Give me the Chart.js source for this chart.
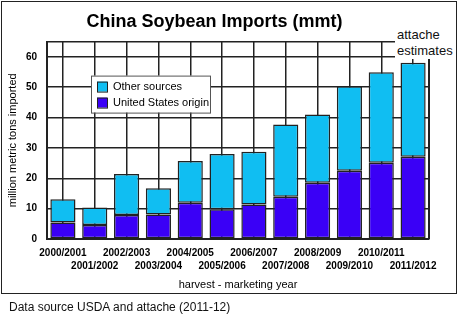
<!DOCTYPE html>
<html>
<head>
<meta charset="utf-8">
<script src="https://cdn.jsdelivr.net/npm/chart.js@4.4.1/dist/chart.umd.min.js"></script>
<style>
  body { margin: 0; background: #fff; font-family: Arial, "Liberation Sans", sans-serif; }
  #wrap { position: relative; width: 463px; height: 327px; }
  #frame { position: absolute; left: 1px; top: 1px; width: 456px; height: 293px; border: 1.5px solid #222; box-sizing: border-box; pointer-events: none; }
  #note { position: absolute; left: 395px; top: 27px; width: 60px; padding-left: 2px; box-sizing: border-box; background: #fff; font-size: 13px; line-height: 16px; color: #111; }
  #src { position: absolute; left: 9px; top: 300px; font-size: 12px; color: #111; }
</style>
</head>
<body>
<div id="wrap">
  <canvas id="myChart" width="463" height="327"></canvas>
  <div id="frame"></div>
  <div id="note">attache<br>estimates</div>
  <div id="src">Data source USDA and attache (2011-12)</div>
</div>
<script>
// harvest - marketing years
let categories = ["2000/2001", "2001/2002", "2002/2003", "2003/2004", "2004/2005", "2005/2006",
                  "2006/2007", "2007/2008", "2008/2009", "2009/2010", "2010/2011", "2011/2012"];
// million metric tons
let usOrigin     = [5.4, 4.6, 7.9, 8.1, 11.9, 9.8, 11.4, 13.9, 18.5, 22.5, 25.1, 27.1];
let otherSources = [7.7, 5.8, 13.5, 8.6, 13.8, 18.2, 17.3, 23.8, 22.5, 27.8, 29.8, 30.9];
let yTicks = [0, 10, 20, 30, 40, 50, 60];

Chart.defaults.font.family = 'Arial, "Liberation Sans", sans-serif';
Chart.defaults.color = "#000";

// legend box inside the plot + right edge of the plot
const boxLegend = {
  id: "boxLegend",
  afterDraw(chart) {
    const ctx = chart.ctx;
    const a = chart.chartArea;
    ctx.save();
    ctx.strokeStyle = "#222";
    ctx.lineWidth = 2;
    ctx.beginPath();
    ctx.moveTo(a.right, a.top);
    ctx.lineTo(a.right, a.bottom);
    ctx.stroke();

    let x = a.left + 44, y = a.top + 34;
    ctx.fillStyle = "#fff";
    ctx.fillRect(x, y, 119, 37);
    ctx.strokeStyle = "#555";
    ctx.lineWidth = 1;
    ctx.strokeRect(x + 0.5, y + 0.5, 119, 37);
    let items = chart.data.datasets.slice().reverse();
    ctx.font = '11px Arial, "Liberation Sans", sans-serif';
    ctx.textBaseline = "middle";
    items.forEach((ds, i) => {
      let yy = y + 6 + i * 16;
      ctx.fillStyle = ds.backgroundColor;
      ctx.fillRect(x + 6, yy, 10, 10);
      ctx.strokeStyle = "#222";
      ctx.strokeRect(x + 6.5, yy + 0.5, 10, 10);
      ctx.fillStyle = "#000";
      ctx.fillText(ds.label, x + 22, yy + 5.5);
    });
    ctx.restore();
  }
};

let ctx = document.getElementById("myChart").getContext("2d");
new Chart(ctx, {
  type: "bar",
  data: {
    labels: categories,
    datasets: [
      {
        label: "United States origin",
        data: usOrigin,
        backgroundColor: "#3A00F6",
        borderColor: "#222",
        borderWidth: 1.5,
        borderSkipped: false,
        barPercentage: 0.79,
        categoryPercentage: 1
      },
      {
        label: "Other sources",
        data: otherSources,
        backgroundColor: "#10BEF2",
        borderColor: "#222",
        borderWidth: 1.5,
        borderSkipped: false,
        barPercentage: 0.79,
        categoryPercentage: 1
      }
    ]
  },
  plugins: [boxLegend],
  options: {
    responsive: false,
    animation: false,
    layout: { padding: { left: 0, right: 34, top: 0, bottom: 0 } },
    plugins: {
      legend: { display: false },
      tooltip: { enabled: false },
      title: {
        display: true,
        text: "China Soybean Imports (mmt)",
        font: { size: 18, weight: "bold" },
        padding: { top: 11, bottom: 9 }
      }
    },
    scales: {
      x: {
        stacked: true,
        offset: true,
        grid: { offset: false, color: "#222", lineWidth: 1.5, drawTicks: false },
        border: { color: "#222", width: 2 },
        ticks: {
          autoSkip: false,
          maxRotation: 0,
          minRotation: 0,
          padding: 7.5,
          font: { size: 10, weight: "bold", lineHeight: 1.3 },
          callback: (v, i) => i % 2 ? ["", categories[i]] : [categories[i], ""]
        },
        title: {
          display: true,
          text: "harvest - marketing year",
          font: { size: 11 },
          padding: { top: 0, bottom: 35 }
        },
        afterFit: s => { s.height = 88; }
      },
      y: {
        stacked: true,
        min: 0,
        max: 65,
        grid: { color: "#222", lineWidth: 1.5, drawTicks: false },
        border: { color: "#222", width: 2 },
        afterBuildTicks: s => {
          s.ticks = yTicks.map(v => ({ value: v })).concat([{ value: 65 }]);
        },
        ticks: {
          padding: 10,
          font: { size: 10, weight: "bold" },
          callback: v => yTicks.includes(v) ? v : ""
        },
        title: {
          display: true,
          text: "million metric tons imported",
          font: { size: 11 },
          padding: { top: 6, bottom: 0 }
        },
        afterFit: s => { s.width = 47; }
      }
    }
  }
});
</script>
</body>
</html>
